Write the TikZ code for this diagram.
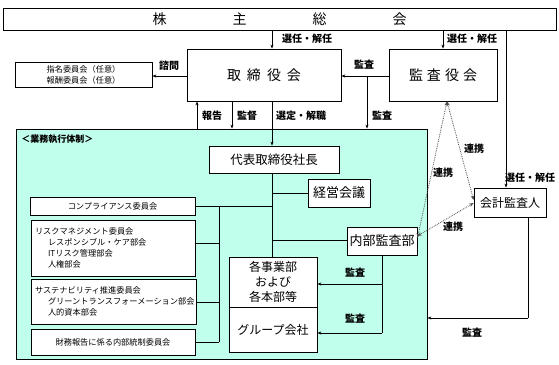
\documentclass[tikz,border=0pt]{standalone}
\usepackage{fontspec}
\setmainfont{Noto Sans CJK JP}
\usetikzlibrary{arrows.meta}
\definecolor{execfill}{RGB}{192,255,236}
\begin{document}
\begin{tikzpicture}[x=1pt,y=-1pt, line width=0.8pt,
 box/.style={draw, inner sep=0pt, fill=white},
 lbl/.style={font=\fontsize{10}{12}\selectfont\bfseries, inner sep=0pt},
 sm/.style={font=\fontsize{8.2}{11}\selectfont},
 arr/.style={-{Stealth[length=4pt,width=3pt]}},
 link/.style={densely dotted, gray!60!black, {Stealth[length=4.5pt,width=3.5pt]}-{Stealth[length=4.5pt,width=3.5pt]}}]
\useasboundingbox (0,0) rectangle (559,364);
% top boxes
\node[box, minimum width=553pt, minimum height=22pt, font=\fontsize{14}{16}\selectfont] (sh) at (279.5,19) {株\hspace{66pt}主\hspace{66pt}総\hspace{66pt}会\hspace{19pt}};
\node[box, minimum width=154pt, minimum height=52pt, font=\fontsize{14}{16}\selectfont] (board) at (264,75) {取\hspace{6pt}締\hspace{6pt}役\hspace{6pt}会};
\node[box, minimum width=108pt, minimum height=52pt, font=\fontsize{14}{16}\selectfont] (audit) at (443,75) {監\hspace{4pt}査\hspace{4pt}役\hspace{4pt}会};
\node[box, sm, align=center, minimum width=137pt, minimum height=25pt] (nom) at (83.5,74.5) {指名委員会（任意）\\報酬委員会（任意）};
% execution frame
\node[draw, fill=execfill, inner sep=0pt, minimum width=411pt, minimum height=230pt] (exec) at (221.5,244) {};
\node[anchor=west, font=\fontsize{9}{11}\selectfont\bfseries, inner sep=0pt] (exectitle) at (21,139) {＜業務執行体制＞};
\node[box, minimum width=130pt, minimum height=27pt, font=\fontsize{12.5}{14}\selectfont] (pres) at (274,159.5) {代表取締役社長};
\node[box, minimum width=62pt, minimum height=28pt, font=\fontsize{13}{15}\selectfont] (mgmt) at (339,193) {経営会議};
\node[box, minimum width=70pt, minimum height=28pt, font=\fontsize{13}{15}\selectfont] (ia) at (382,241) {内部監査部};
\node[box, minimum width=88pt, minimum height=50pt, align=center, font=\fontsize{12}{15}\selectfont] (depts) at (273,282) {各事業部\\および\\各本部等};
\node[box, minimum width=88pt, minimum height=45pt, font=\fontsize{12}{14}\selectfont] (group) at (273,329.5) {グループ会社};
\node[box, minimum width=72pt, minimum height=29pt, font=\fontsize{12}{14}\selectfont] (acct) at (510,202.5) {会計監査人};
% committees
\node[box, sm, minimum width=165pt, minimum height=18pt] (comp) at (112.5,206) {コンプライアンス委員会};
\node[box, sm, align=left, text width=156pt, inner xsep=4pt, minimum height=56pt] (risk) at (113,248) {リスクマネジメント委員会\\\hspace*{13pt}レスポンシブル・ケア部会\\\hspace*{13pt}ITリスク管理部会\\\hspace*{13pt}人権部会};
\node[box, sm, align=left, text width=157pt, inner xsep=4pt, minimum height=45pt] (sust) at (113.5,301.5) {サステナビリティ推進委員会\\\hspace*{13pt}グリーントランスフォーメーション部会\\\hspace*{13pt}人的資本部会};
\node[box, sm, minimum width=164pt, minimum height=26pt] (fin) at (113,342) {財務報告に係る内部統制委員会};
% helper coordinates
\coordinate (c197) at (197,0); \coordinate (c232) at (232,0); \coordinate (c272) at (272,0);
\coordinate (c367) at (367,0); \coordinate (c443) at (443,0); \coordinate (c506) at (506,0);
\coordinate (c219) at (219,0); \coordinate (c382) at (382,0); \coordinate (c528) at (528,0);
\coordinate (c447) at (447,0);
\coordinate (r76) at (0,76); \coordinate (r193) at (0,193); \coordinate (r206) at (0,206);
\coordinate (r240) at (0,240); \coordinate (r243) at (0,243); \coordinate (r302) at (0,302);
\coordinate (r342) at (0,342); \coordinate (r284) at (0,284); \coordinate (r333) at (0,333);
\coordinate (r318) at (0,318); \coordinate (r238) at (0,238); \coordinate (r200) at (0,200);
\coordinate (r236) at (0,236); \coordinate (r203) at (0,203);
% connectors
\draw[arr] (sh.south -| c272) -- (board.north -| c272);
\draw[arr] (sh.south -| c443) -- (audit.north -| c443);
\draw[arr] (sh.south -| c506) -- (acct.north -| c506);
\draw[arr] (board.west |- r76) -- (nom.east |- r76);
\draw[arr] (audit.west |- r76) -- (board.east |- r76);
\draw[arr] (c367 |- r76) -- (exec.north -| c367);
\draw[arr] (exec.north -| c197) -- (board.south -| c197);
\draw[arr] (board.south -| c232) -- (exec.north -| c232);
\draw[arr] (board.south -| c272) -- (pres.north -| c272);
\draw (pres.south -| c272) -- (depts.north -| c272);
\draw (c272 |- r193) -- (mgmt.west |- r193);
\draw (c272 |- r240) -- (ia.west |- r240);
\draw (comp.east |- r206) -- (c272 |- r206);
\draw (c219 |- r206) -- (c219 |- r342);
\draw (risk.east |- r243) -- (c219 |- r243);
\draw (sust.east |- r302) -- (c219 |- r302);
\draw (fin.east |- r342) -- (c219 |- r342);
\draw (ia.south -| c382) -- (c382 |- r333);
\draw[arr] (c382 |- r284) -- (depts.east |- r284);
\draw[arr] (c382 |- r333) -- (group.east |- r333);
\draw (acct.south -| c528) -- (c528 |- r318);
\draw[arr] (c528 |- r318) -- (exec.east |- r318);
\draw[link] (audit.south -| c447) -- (ia.east |- r238);
\draw[link] (audit.south -| c447) -- (acct.west |- r200);
\draw[link] (ia.east |- r236) -- (acct.west |- r203);
% labels
\node[lbl] (l1) at (307,39) {選任・解任};
\node[lbl] (l2) at (472,39) {選任・解任};
\node[lbl] (l3) at (530,178) {選任・解任};
\node[lbl] (l4) at (169,66) {諮問};
\node[lbl] (l5) at (364,65) {監査};
\node[lbl] (l6) at (382,116) {監査};
\node[lbl] (l7) at (212,116) {報告};
\node[lbl] (l8) at (247,116) {監督};
\node[lbl] (l9) at (301,116) {選定・解職};
\node[lbl] (l10) at (355,273) {監査};
\node[lbl] (l11) at (355,319) {監査};
\node[lbl] (l12) at (472,333) {監査};
\node[lbl] (l13) at (474,149) {連携};
\node[lbl] (l14) at (443,173) {連携};
\node[lbl] (l15) at (453,227) {連携};
\end{tikzpicture}
\end{document}
